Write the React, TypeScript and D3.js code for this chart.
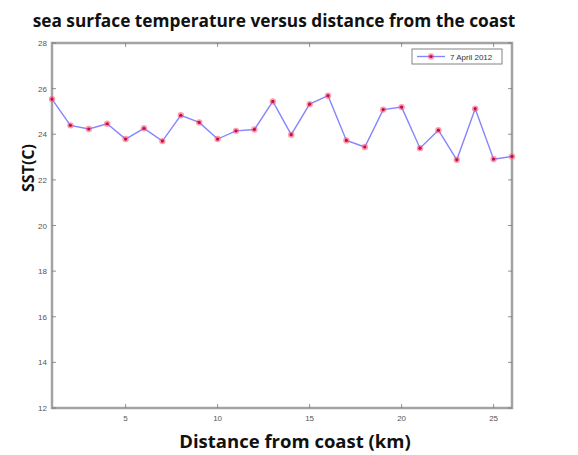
import React from "react";
import * as d3 from "d3";

// Sea surface temperature sampled along a transect, 7 April 2012
const distanceKm = [1, 2, 3, 4, 5, 6, 7, 8, 9, 10, 11, 12, 13, 14, 15, 16, 17, 18, 19, 20, 21, 22, 23, 24, 25, 26];
const sstC = [25.54, 24.39, 24.23, 24.46, 23.79, 24.26, 23.7, 24.83, 24.52, 23.79, 24.15, 24.21, 25.44, 23.98, 25.32, 25.69, 23.73, 23.44, 25.08, 25.19, 23.39, 24.18, 22.88, 25.12, 22.91, 23.03];
const xTicks = [5, 10, 15, 20, 25];
const yTicks = [12, 14, 16, 18, 20, 22, 24, 26, 28];
const seriesLabel = "7 April 2012";

const W = 578;
const H = 455;
const left = 52, right = 512, top = 43, bottom = 408;

export default function App() {
  const x = d3.scaleLinear().domain([1, 26]).range([left, right]);
  const y = d3.scaleLinear().domain([12, 28]).range([bottom, top]);
  const pts = distanceKm.map((d, i) => [d, sstC[i]] as [number, number]);
  const line = d3.line<[number, number]>().x((d) => x(d[0])).y((d) => y(d[1]));
  const axisColor = "#a3a3a3";
  const tickFont = "Liberation Sans, Arial, sans-serif";
  const titleFont = "'Open Sans', 'Noto Sans', sans-serif";

  const Marker = ({ cx, cy }: { cx: number; cy: number }) => (
    <g>
      <circle cx={cx} cy={cy} r={3.2} fill="#ff5a78" opacity={0.6} />
      <circle cx={cx} cy={cy} r={1.6} fill="#c01040" />
    </g>
  );

  return (
    <svg width={W} height={H} style={{ position: "absolute", left: 0, top: 0, background: "#fff" }}>
      <text x={274} y={27} textAnchor="middle" fontFamily={titleFont} fontWeight={700} fontSize={17.3} fill="#111">
        sea surface temperature versus distance from the coast
      </text>

      {/* plot frame */}
      <rect x={left} y={top} width={right - left} height={bottom - top} fill="#fff" stroke={axisColor} strokeWidth={2.5} />

      {/* y ticks, mirrored on the right */}
      {yTicks.map((t) => (
        <g key={"y" + t}>
          <line x1={left} x2={left + 4} y1={y(t)} y2={y(t)} stroke="#777" strokeWidth={0.8} />
          <line x1={right - 4} x2={right} y1={y(t)} y2={y(t)} stroke="#777" strokeWidth={0.8} />
          <text x={left - 5} y={y(t) + 3} textAnchor="end" fontFamily={tickFont} fontSize={8} fill="#555">
            {t}
          </text>
        </g>
      ))}

      {/* x ticks, mirrored on the top */}
      {xTicks.map((t) => (
        <g key={"x" + t}>
          <line x1={x(t)} x2={x(t)} y1={bottom} y2={bottom - 4} stroke="#777" strokeWidth={0.8} />
          <line x1={x(t)} x2={x(t)} y1={top} y2={top + 4} stroke="#777" strokeWidth={0.8} />
          <text x={x(t)} y={bottom + 13} textAnchor="middle" fontFamily={tickFont} fontSize={8} fill="#555">
            {t}
          </text>
        </g>
      ))}

      {/* series */}
      <path d={line(pts) || ""} fill="none" stroke="#8585ff" strokeWidth={1.4} />
      {pts.map((p, i) => (
        <Marker key={i} cx={x(p[0])} cy={y(p[1])} />
      ))}

      {/* legend */}
      <rect x={412} y={49} width={90} height={15} fill="#fff" stroke="#777" strokeWidth={0.9} />
      <line x1={417} x2={445} y1={56.5} y2={56.5} stroke="#8585ff" strokeWidth={1.4} />
      <Marker cx={431} cy={56.5} />
      <text x={450} y={59.5} fontFamily={tickFont} fontSize={8} fill="#333">
        {seriesLabel}
      </text>

      {/* axis titles */}
      <text x={295} y={448} textAnchor="middle" fontFamily={titleFont} fontWeight={700} fontSize={18.5} fill="#111">
        Distance from coast (km)
      </text>
      <text
        transform={`translate(34, 168) rotate(-90)`}
        textAnchor="middle"
        fontFamily={titleFont}
        fontWeight={700}
        fontSize={16}
        fill="#111"
      >
        SST(C)
      </text>
    </svg>
  );
}
